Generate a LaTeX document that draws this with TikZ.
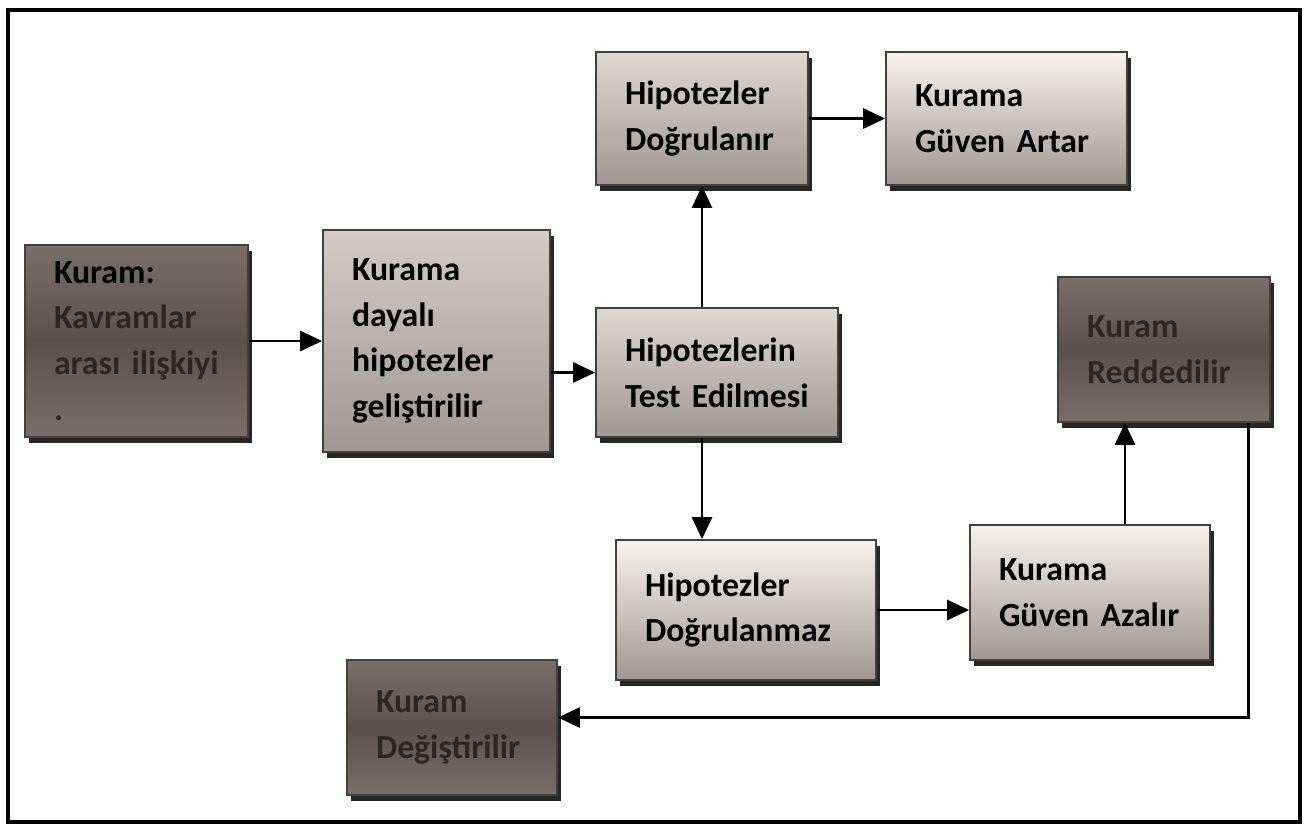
\documentclass[tikz,border=0pt]{standalone}
\usepackage{fontspec}
\setmainfont{Carlito}
\usetikzlibrary{arrows.meta,shadows}
\definecolor{acikust}{RGB}{224,216,214}
\definecolor{acikalt}{RGB}{160,151,149}
\definecolor{beyazust}{RGB}{246,243,241}
\definecolor{koyuust}{RGB}{122,110,106}
\definecolor{koyuorta}{RGB}{90,80,77}
\definecolor{koyuyazi}{RGB}{45,37,35}
\begin{document}
\begin{tikzpicture}[
      kutu/.style={draw=black!75,line width=0.5pt,inner xsep=0.29cm,inner ysep=0pt,
        align=left,font=\fontsize{9.6}{13}\selectfont\bfseries,
        drop shadow={shadow xshift=0.035cm,shadow yshift=-0.06cm,fill=black,opacity=0.85}},
      acik/.style={kutu,top color=acikust,bottom color=acikalt},
      koyu/.style={kutu,top color=koyuust,bottom color=koyuust,middle color=koyuorta,text=koyuyazi},
      ok/.style={line width=0.8pt,-{Triangle[length=0.22cm,width=0.2cm]}},
      ]
        \useasboundingbox (0,0) rectangle (13.07,8.27);
        \draw [line width=1pt] (0.08,0.05) rectangle (13.0,8.17);

        \node [koyu,text width=1.65cm,minimum height=1.92cm] (kuram) at (1.365,4.86)
          {\textcolor{black}{Kuram:}\\Kavramlar\\arası~ilişkiyi\\.};
        \node [acik,top color=acikust!80!acikalt,text width=1.69cm,minimum height=2.22cm]
          (dayali) at (4.365,4.86)
          {Kurama\\dayalı\\hipotezler\\geliştirilir};
        \node [acik,text width=1.84cm,minimum height=1.29cm] (test) at (7.17,4.545)
          {Hipotezlerin\\Test~Edilmesi};
        \node [acik,text width=1.54cm,minimum height=1.33cm] (dogru) at (7.02,7.085)
          {Hipotezler\\Doğrulanır};
        \node [acik,top color=beyazust,text width=1.83cm,minimum height=1.33cm] (artar) at (10.065,7.085)
          {Kurama\\Güven~Artar};
        \node [koyu,text width=1.54cm,minimum height=1.45cm] (redd) at (11.64,4.775)
          {Kuram\\Reddedilir};
        \node [acik,top color=beyazust,text width=2.02cm,minimum height=1.4cm] (dogruz) at (7.46,2.17)
          {Hipotezler\\Doğrulanmaz};
        \node [acik,top color=beyazust,text width=1.82cm,minimum height=1.35cm] (azalir) at (10.9,2.345)
          {Kurama\\Güven~Azalır};
        \node [koyu,text width=1.52cm,minimum height=1.35cm] (degis) at (4.52,0.995)
          {Kuram\\Değiştirilir};

        \coordinate (azalirust) at ([xshift=0.35cm]azalir.north);
        \coordinate (reddalt) at ([xshift=-0.22cm]redd.south east);

        \draw [ok] (kuram.east) -- (kuram.east -| dayali.west);
        \draw [ok] (dayali.east |- test) -- (test.west);
        \draw [ok] (dogru.south |- test.north) -- (dogru.south);
        \draw [ok] (dogru.east) -- (artar.west);
        \draw [ok] (dogru.south |- test.south) -- (dogru.south |- dogruz.north);
        \draw [ok] (dogruz.east) -- (dogruz.east -| azalir.west);
        \draw [ok] (azalirust) -- (azalirust |- redd.south);
        \draw [ok] (reddalt) |- ([yshift=0.1cm]degis.east);
      \end{tikzpicture}
\end{document}
